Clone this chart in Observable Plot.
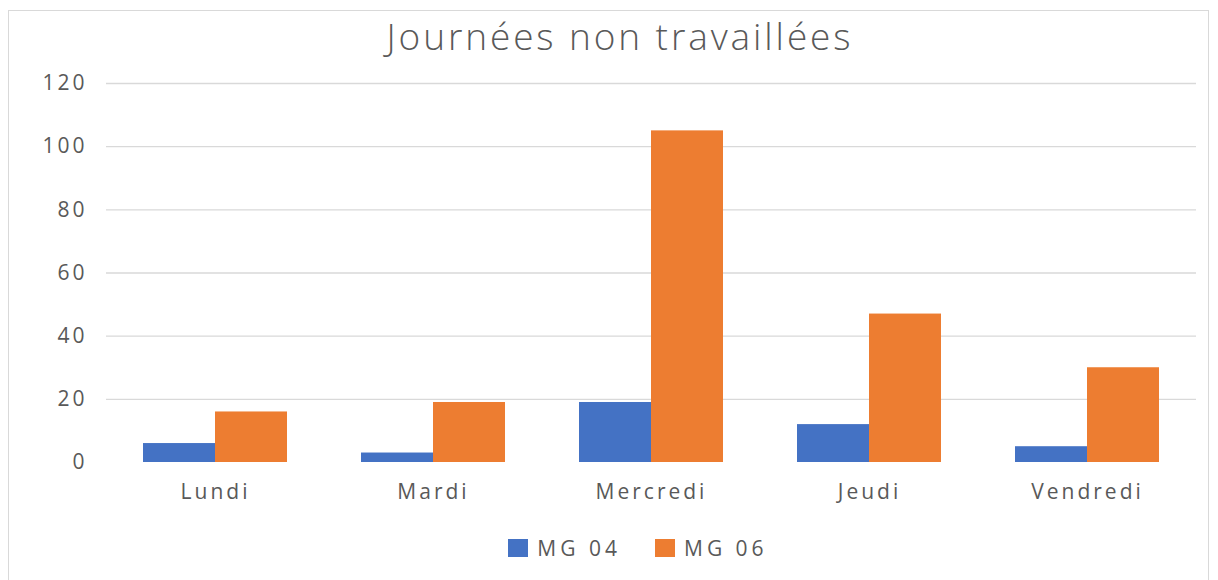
<!DOCTYPE html>
<html>
<head>
<meta charset="utf-8">
<script src="https://cdn.jsdelivr.net/npm/d3@7"></script>
<script src="https://cdn.jsdelivr.net/npm/@observablehq/plot@0.6"></script>
<style>
  html, body { margin: 0; padding: 0; background: #fff; }
  #wrap { position: relative; width: 1218px; height: 580px; overflow: hidden; font-family: "Open Sans", sans-serif; }
  #frame { position: absolute; left: 8px; top: 10px; width: 1201px; height: 600px; border: 1px solid #d9d9d9; box-sizing: border-box; }
  #title { position: absolute; left: 0; top: 12px; width: 1240px; text-align: center; font-size: 37px; font-weight: 300; letter-spacing: 2.9px; color: #595959; line-height: 48px; }
  #chart { position: absolute; left: 0; top: 60px; }
  #chart svg text { letter-spacing: 3px; }
  #legend { position: absolute; left: 0; top: 534px; width: 1218px; display: flex; justify-content: center; font-size: 21px; letter-spacing: 4px; color: #595959; line-height: 28px; padding-left: 58px; box-sizing: border-box; }
  .item { display: flex; align-items: center; margin: 0 17px; }
  .sw { width: 20px; height: 18px; margin-right: 9px; }
</style>
</head>
<body>
<div id="wrap">
  <div id="frame"></div>
  <div id="title">Journées non travaillées</div>
  <div id="chart"></div>
  <div id="legend"></div>
</div>
<script>
const days = ["Lundi", "Mardi", "Mercredi", "Jeudi", "Vendredi"];
const series = ["MG 04", "MG 06"];
const mg04 = [6, 3, 19, 12, 5];
const mg06 = [16, 19, 105, 47, 30];
const yTicks = [0, 20, 40, 60, 80, 100, 120];
const gridValues = [20, 40, 60, 80, 100, 120];
const colors = ["#4472C4", "#ED7D31"];

const data = [];
days.forEach((d, i) => {
  data.push({day: d, series: series[0], value: mg04[i]});
  data.push({day: d, series: series[1], value: mg06[i]});
});

const chart = Plot.plot({
  width: 1218,
  height: 460,
  marginTop: 23,
  marginBottom: 58,
  marginLeft: 105,
  marginRight: 22,
  style: { fontFamily: "Open Sans, sans-serif", fontSize: "21px", color: "#595959", background: "transparent" },
  fx: { domain: days, padding: 0, label: null, axis: "bottom", tickSize: 0, tickPadding: 22 },
  x: { domain: series, paddingInner: 0, paddingOuter: 0.5, axis: null },
  y: { domain: [0, 120], ticks: yTicks, label: null, tickSize: 0, tickPadding: 19 },
  color: { domain: series, range: colors },
  marks: [
    Plot.ruleY(gridValues, { stroke: "#d9d9d9", strokeWidth: 1.3 }),
    Plot.barY(data, { fx: "day", x: "series", y: "value", fill: "series" })
  ]
});
document.getElementById("chart").appendChild(chart);

const legend = document.getElementById("legend");
series.forEach((s, i) => {
  const item = document.createElement("div");
  item.className = "item";
  const sw = document.createElement("div");
  sw.className = "sw";
  sw.style.background = colors[i];
  const t = document.createElement("span");
  t.textContent = s;
  item.appendChild(sw);
  item.appendChild(t);
  legend.appendChild(item);
});
</script>
</body>
</html>
